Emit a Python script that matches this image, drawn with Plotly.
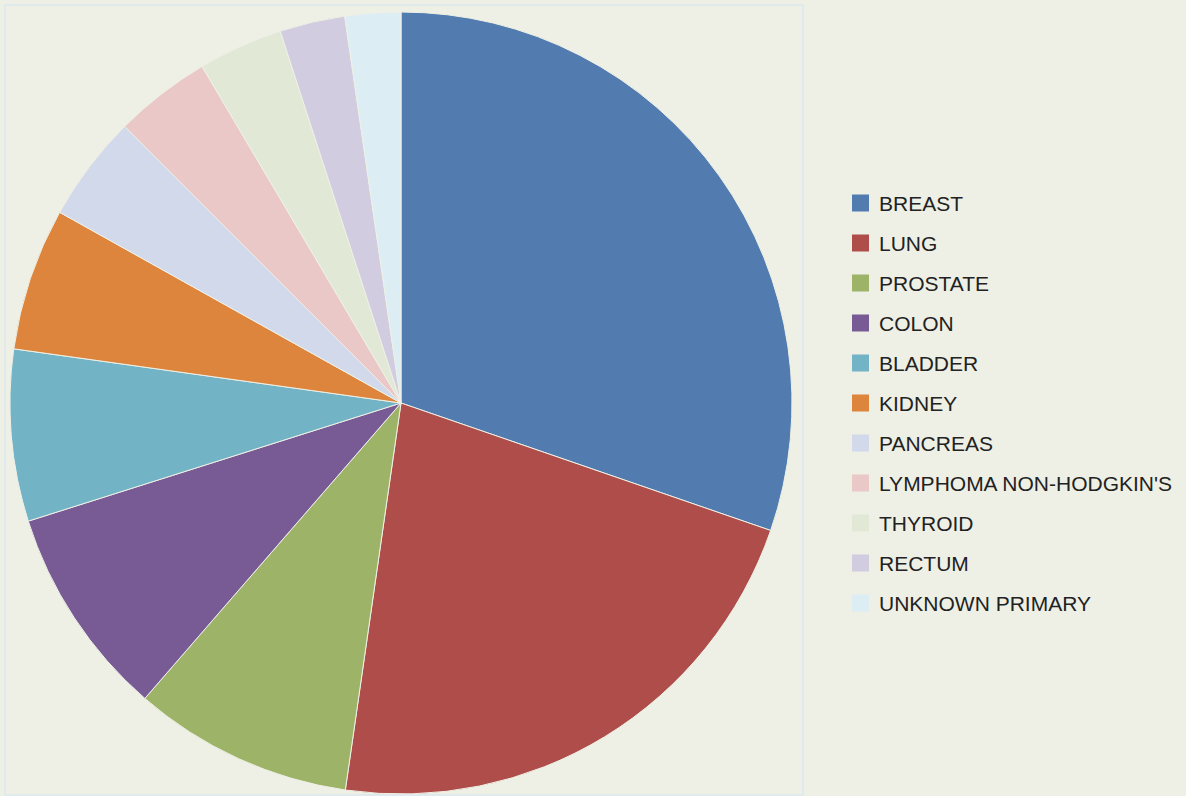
import plotly.graph_objects as go

labels = ["BREAST", "LUNG", "PROSTATE", "COLON", "BLADDER", "KIDNEY", "PANCREAS",
          "LYMPHOMA NON-HODGKIN'S", "THYROID", "RECTUM", "UNKNOWN PRIMARY"]
values = [30.3, 22.0, 9.1, 8.75, 7.1, 5.9, 4.4, 4.0, 3.5, 2.7, 2.3]
colors = ["#527CB0", "#AE4D4A", "#9DB468", "#785B94", "#72B3C6", "#DE853D",
          "#D1D9EA", "#EBC8C8", "#E1E9D6", "#D2CCE0", "#DDEDF4"]

W, H = 1186, 796
fig = go.Figure()
fig.add_trace(go.Pie(
    labels=labels, values=values, sort=False, direction="clockwise", rotation=0,
    marker=dict(colors=colors, line=dict(color="#EEF0E6", width=1)),
    textinfo="none", hoverinfo="label+percent", showlegend=False,
    domain=dict(x=[0, 802 / W], y=[2 / H, 784 / H]),
))

shapes = [dict(type="rect", xref="paper", yref="paper",
               x0=5 / W, x1=803 / W, y0=1 / H, y1=1 - 5 / H,
               line=dict(color="#DCE8EE", width=1.5), fillcolor="rgba(0,0,0,0)", layer="below")]
annotations = []
for i, (lab, col) in enumerate(zip(labels, colors)):
    yc = 203 + 40 * i
    shapes.append(dict(type="rect", xref="paper", yref="paper",
                       x0=852 / W, x1=869 / W, y0=1 - (yc + 8.5) / H, y1=1 - (yc - 8.5) / H,
                       line=dict(width=0), fillcolor=col))
    annotations.append(dict(xref="paper", yref="paper", x=877 / W, y=1 - yc / H,
                            xanchor="left", yanchor="middle", text=lab, showarrow=False,
                            font=dict(family="Liberation Sans, Arial, sans-serif", size=21, color="#222222")))

fig.update_layout(
    width=W, height=H, margin=dict(l=0, r=0, t=0, b=0),
    paper_bgcolor="#EEF0E6", plot_bgcolor="#EEF0E6",
    shapes=shapes, annotations=annotations,
)
fig.write_html("out.html", config={"displayModeBar": False},
               post_script="document.body.style.margin='0';document.body.style.background='#EEF0E6';")
